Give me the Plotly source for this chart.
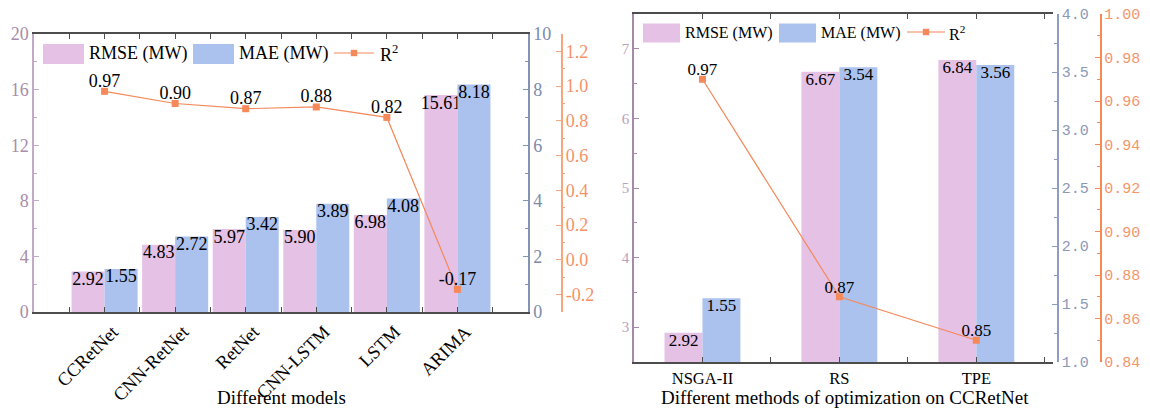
import plotly.graph_objects as go

W, H = 1150, 412

# ---- data: comparison of forecasting models ----
models = ["CCRetNet", "CNN-RetNet", "RetNet", "CNN-LSTM", "LSTM", "ARIMA"]
models_rmse = [2.92, 4.83, 5.97, 5.90, 6.98, 15.61]
models_mae = [1.55, 2.72, 3.42, 3.89, 4.08, 8.18]
models_r2 = [0.97, 0.90, 0.87, 0.88, 0.82, -0.17]

# ---- data: hyper-parameter optimisation methods on CCRetNet ----
methods = ["NSGA-II", "RS", "TPE"]
methods_rmse = [2.92, 6.67, 6.84]
methods_mae = [1.55, 3.54, 3.56]
methods_r2 = [0.97, 0.87, 0.85]

# ---- tick values / labels ----
l_rmse_ticks = [0, 4, 8, 12, 16, 20]
l_mae_ticks = [0, 2, 4, 6, 8, 10]
l_r2_ticks = [-0.2, 0.0, 0.2, 0.4, 0.6, 0.8, 1.0, 1.2]
l_r2_labels = ["-0.2", "0.0", "0.2", "0.4", "0.6", "0.8", "1.0", "1.2"]
r_rmse_ticks = [3, 4, 5, 6, 7]
r_mae_ticks = [1.0, 1.5, 2.0, 2.5, 3.0, 3.5, 4.0]
r_r2_ticks = [0.84, 0.86, 0.88, 0.90, 0.92, 0.94, 0.96, 0.98, 1.00]

PINK = "#e4c1e5"
BLUE = "#abc2ee"
ORANGE = "#f5895a"
SERIF = "Liberation Serif, Times New Roman, serif"
MONO = "Liberation Mono, Courier New, monospace"

RMSE_LINE, RMSE_TXT = "#c3a9c8", "#a88caa"
MAE_LINE, MAE_TXT = "#8492b3", "#7c8aaa"
R2_LINE, R2_TXT = "#f8a47c", "#f79166"
AX_DARK = "#4d4d4d"


def px_x(p):
    return p / W


def px_y(p):
    return 1 - p / H


fig = go.Figure()


def value_text(x, y, fmt_vals, pos, size, xa, ya):
    return go.Scatter(x=x, y=y, mode="text", text=fmt_vals, textposition=pos,
                      textfont=dict(family=SERIF, size=size, color="black"),
                      xaxis=xa, yaxis=ya, showlegend=False, hoverinfo="skip")


# ================= left panel =================
wl = 0.468
xl = list(range(len(models)))
fig.add_trace(go.Bar(x=xl, y=models_rmse, width=wl, offset=-wl, marker=dict(color=PINK, line=dict(width=0)),
                     xaxis="x", yaxis="y", showlegend=False))
fig.add_trace(value_text([i - wl / 2 for i in xl], models_rmse, [f"{v:.2f}" for v in models_rmse],
                         "bottom center", 18, "x", "y"))
fig.add_trace(go.Bar(x=xl, y=models_mae, width=wl, offset=0, marker=dict(color=BLUE, line=dict(width=0)),
                     xaxis="x", yaxis="y2", showlegend=False))
fig.add_trace(value_text([i + wl / 2 for i in xl], models_mae, [f"{v:.2f}" for v in models_mae],
                         "bottom center", 18, "x", "y2"))
fig.add_trace(go.Scatter(x=xl, y=models_r2, mode="lines+markers",
                         line=dict(color=ORANGE, width=1.2),
                         marker=dict(symbol="square", size=7, color=ORANGE),
                         xaxis="x", yaxis="y3", showlegend=False))
fig.add_trace(value_text(xl, models_r2, [f"{v:.2f}" for v in models_r2], "top center", 18, "x", "y3"))

# ================= right panel =================
wr = 0.277
xr = list(range(len(methods)))
fig.add_trace(go.Bar(x=xr, y=methods_rmse, width=wr, offset=-wr, marker=dict(color=PINK, line=dict(width=0)),
                     xaxis="x2", yaxis="y4", showlegend=False))
fig.add_trace(value_text([i - wr / 2 for i in xr], methods_rmse, [f"{v:.2f}" for v in methods_rmse],
                         "bottom center", 17, "x2", "y4"))
fig.add_trace(go.Bar(x=xr, y=methods_mae, width=wr, offset=0, marker=dict(color=BLUE, line=dict(width=0)),
                     xaxis="x2", yaxis="y5", showlegend=False))
fig.add_trace(value_text([i + wr / 2 for i in xr], methods_mae, [f"{v:.2f}" for v in methods_mae],
                         "bottom center", 17, "x2", "y5"))
fig.add_trace(go.Scatter(x=xr, y=methods_r2, mode="lines+markers",
                         line=dict(color=ORANGE, width=1.2),
                         marker=dict(symbol="square", size=7, color=ORANGE),
                         xaxis="x2", yaxis="y6", showlegend=False))
fig.add_trace(value_text(xr, methods_r2, [f"{v:.2f}" for v in methods_r2], "top center", 17, "x2", "y6"))

L_DOM_X = [px_x(34), px_x(528)]
L_DOM_Y = [px_y(312), px_y(34)]
R_DOM_X = [px_x(634), px_x(1053)]
R_DOM_Y = [px_y(362), px_y(14)]


def yax(color_line, color_txt, tickvals, ticktext, rng, font, size, ticks="inside", minor_vals=None,
        minor_ticks="inside", **kw):
    d = dict(range=rng, tickvals=tickvals, ticktext=ticktext, showgrid=False, zeroline=False,
             showline=True, linecolor=color_line, linewidth=1.5, ticks=ticks, ticklen=5,
             tickcolor=color_line, tickwidth=1.2, automargin=False,
             tickfont=dict(family=font, size=size, color=color_txt), fixedrange=True)
    if minor_vals is not None:
        d["minor"] = dict(tickvals=minor_vals, ticks=minor_ticks, ticklen=3, tickcolor=color_line,
                          tickwidth=1.1, showgrid=False)
    d.update(kw)
    return d


fig.update_layout(
    width=W, height=H, margin=dict(l=0, r=0, t=0, b=0, autoexpand=False),
    paper_bgcolor="white", plot_bgcolor="rgba(0,0,0,0)",
    showlegend=False,
    font=dict(family=SERIF, color="black"),
    xaxis=dict(domain=L_DOM_X, range=[-1, 6], anchor="y", tickvals=xl, ticktext=models,
               tickangle=-45, tickfont=dict(family=SERIF, size=18.5, color="black"), ticklabelshift=8,
               showline=True, linecolor=AX_DARK, linewidth=1.5, mirror="ticks",
               ticks="inside", ticklen=5, tickcolor=AX_DARK, showgrid=False, zeroline=False,
               minor=dict(tickvals=[i + 0.5 for i in range(-1, len(models))], ticks="inside",
                          ticklen=5, tickcolor=AX_DARK, showgrid=False),
               automargin=False, fixedrange=True),
    yaxis=yax(RMSE_LINE, RMSE_TXT, l_rmse_ticks, [str(v) for v in l_rmse_ticks], [0, 20], SERIF, 18,
              minor_vals=[2, 6, 10, 14, 18], domain=L_DOM_Y, anchor="x"),
    yaxis2=yax(MAE_LINE, MAE_TXT, l_mae_ticks, [str(v) for v in l_mae_ticks], [0, 10], SERIF, 18,
               minor_vals=[1, 3, 5, 7, 9], overlaying="y", side="right", anchor="x"),
    yaxis3=yax(R2_LINE, R2_TXT, l_r2_ticks, l_r2_labels, [-0.3, 1.3], SERIF, 18,
               minor_vals=[-0.3, -0.1, 0.1, 0.3, 0.5, 0.7, 0.9, 1.1, 1.3], minor_ticks="outside",
               overlaying="y", side="right", anchor="free", position=px_x(561.5)),
    xaxis2=dict(domain=R_DOM_X, range=[-0.5, 2.56], anchor="y4", tickvals=xr, ticktext=methods,
                tickfont=dict(family=SERIF, size=16.5, color="black"),
                showline=True, linecolor=AX_DARK, linewidth=1.5, mirror="ticks",
                ticks="inside", ticklen=5, tickcolor=AX_DARK, showgrid=False, zeroline=False,
                minor=dict(tickvals=[0.5, 1.5, 2.5], ticks="inside", ticklen=5, tickcolor=AX_DARK,
                           showgrid=False),
                automargin=False, fixedrange=True),
    yaxis4=yax("#a58aa8", "#b9a2ba", r_rmse_ticks, [str(v) for v in r_rmse_ticks], [2.5, 7.5], SERIF, 15,
               minor_vals=[3.5, 4.5, 5.5, 6.5], domain=R_DOM_Y, anchor="x2"),
    yaxis5=yax("#8d9cc0", "#8a98b8", r_mae_ticks, [f"{v:.1f}" for v in r_mae_ticks], [1.0, 4.0], MONO, 15,
               minor_vals=[1.25, 1.75, 2.25, 2.75, 3.25, 3.75], overlaying="y4", side="right",
               anchor="free", position=px_x(1058)),
    yaxis6=yax("#f58a55", "#f5956a", r_r2_ticks, [f"{v:.2f}" for v in r_r2_ticks], [0.84, 1.0], MONO, 15,
               minor_vals=[0.85, 0.87, 0.89, 0.91, 0.93, 0.95, 0.97, 0.99], overlaying="y4", side="right",
               anchor="free", position=px_x(1100.5)),
)

# ---- custom legends (two panels, different sizes) ----
shapes = []
annotations = []


def legend(x0, yc, sw, sh, fsize, gap_txt, blue_x, mae_txt_x, line_x0, line_x1, r2_txt_x):
    shapes.append(dict(type="rect", xref="paper", yref="paper", x0=px_x(x0), x1=px_x(x0 + sw),
                       y0=px_y(yc + sh / 2), y1=px_y(yc - sh / 2), fillcolor=PINK, line=dict(width=0)))
    annotations.append(dict(xref="paper", yref="paper", x=px_x(x0 + sw + gap_txt), y=px_y(yc), text="RMSE (MW)",
                            showarrow=False, xanchor="left", yanchor="middle",
                            font=dict(family=SERIF, size=fsize, color="black")))
    shapes.append(dict(type="rect", xref="paper", yref="paper", x0=px_x(blue_x), x1=px_x(blue_x + sw),
                       y0=px_y(yc + sh / 2), y1=px_y(yc - sh / 2), fillcolor=BLUE, line=dict(width=0)))
    annotations.append(dict(xref="paper", yref="paper", x=px_x(mae_txt_x), y=px_y(yc), text="MAE (MW)",
                            showarrow=False, xanchor="left", yanchor="middle",
                            font=dict(family=SERIF, size=fsize, color="black")))
    shapes.append(dict(type="line", xref="paper", yref="paper", x0=px_x(line_x0), x1=px_x(line_x1),
                       y0=px_y(yc - 1), y1=px_y(yc - 1), line=dict(color=ORANGE, width=1.2)))
    mc = (line_x0 + line_x1) / 2
    shapes.append(dict(type="rect", xref="paper", yref="paper", x0=px_x(mc - 3.2), x1=px_x(mc + 3.2),
                       y0=px_y(yc - 1 + 3.2), y1=px_y(yc - 1 - 3.2), fillcolor=ORANGE, line=dict(width=0)))
    annotations.append(dict(xref="paper", yref="paper", x=px_x(r2_txt_x), y=px_y(yc), text="R<sup>2</sup>",
                            showarrow=False, xanchor="left", yanchor="middle",
                            font=dict(family=SERIF, size=fsize, color="black")))


legend(43, 54, 41, 20, 18, 3, 193, 237, 334, 374, 378)
legend(643, 33, 37, 19, 16, 3, 779, 819, 907, 945, 947)

# ---- axis titles ----
annotations.append(dict(xref="paper", yref="paper", x=px_x(281), y=px_y(397), text="Different models",
                        showarrow=False, xanchor="center", yanchor="middle",
                        font=dict(family=SERIF, size=19, color="black")))
annotations.append(dict(xref="paper", yref="paper", x=px_x(845), y=px_y(397),
                        text="Different methods of optimization on CCRetNet",
                        showarrow=False, xanchor="center", yanchor="middle",
                        font=dict(family=SERIF, size=19, color="black")))

fig.update_layout(shapes=shapes, annotations=annotations)

fig.write_html("out.html")
